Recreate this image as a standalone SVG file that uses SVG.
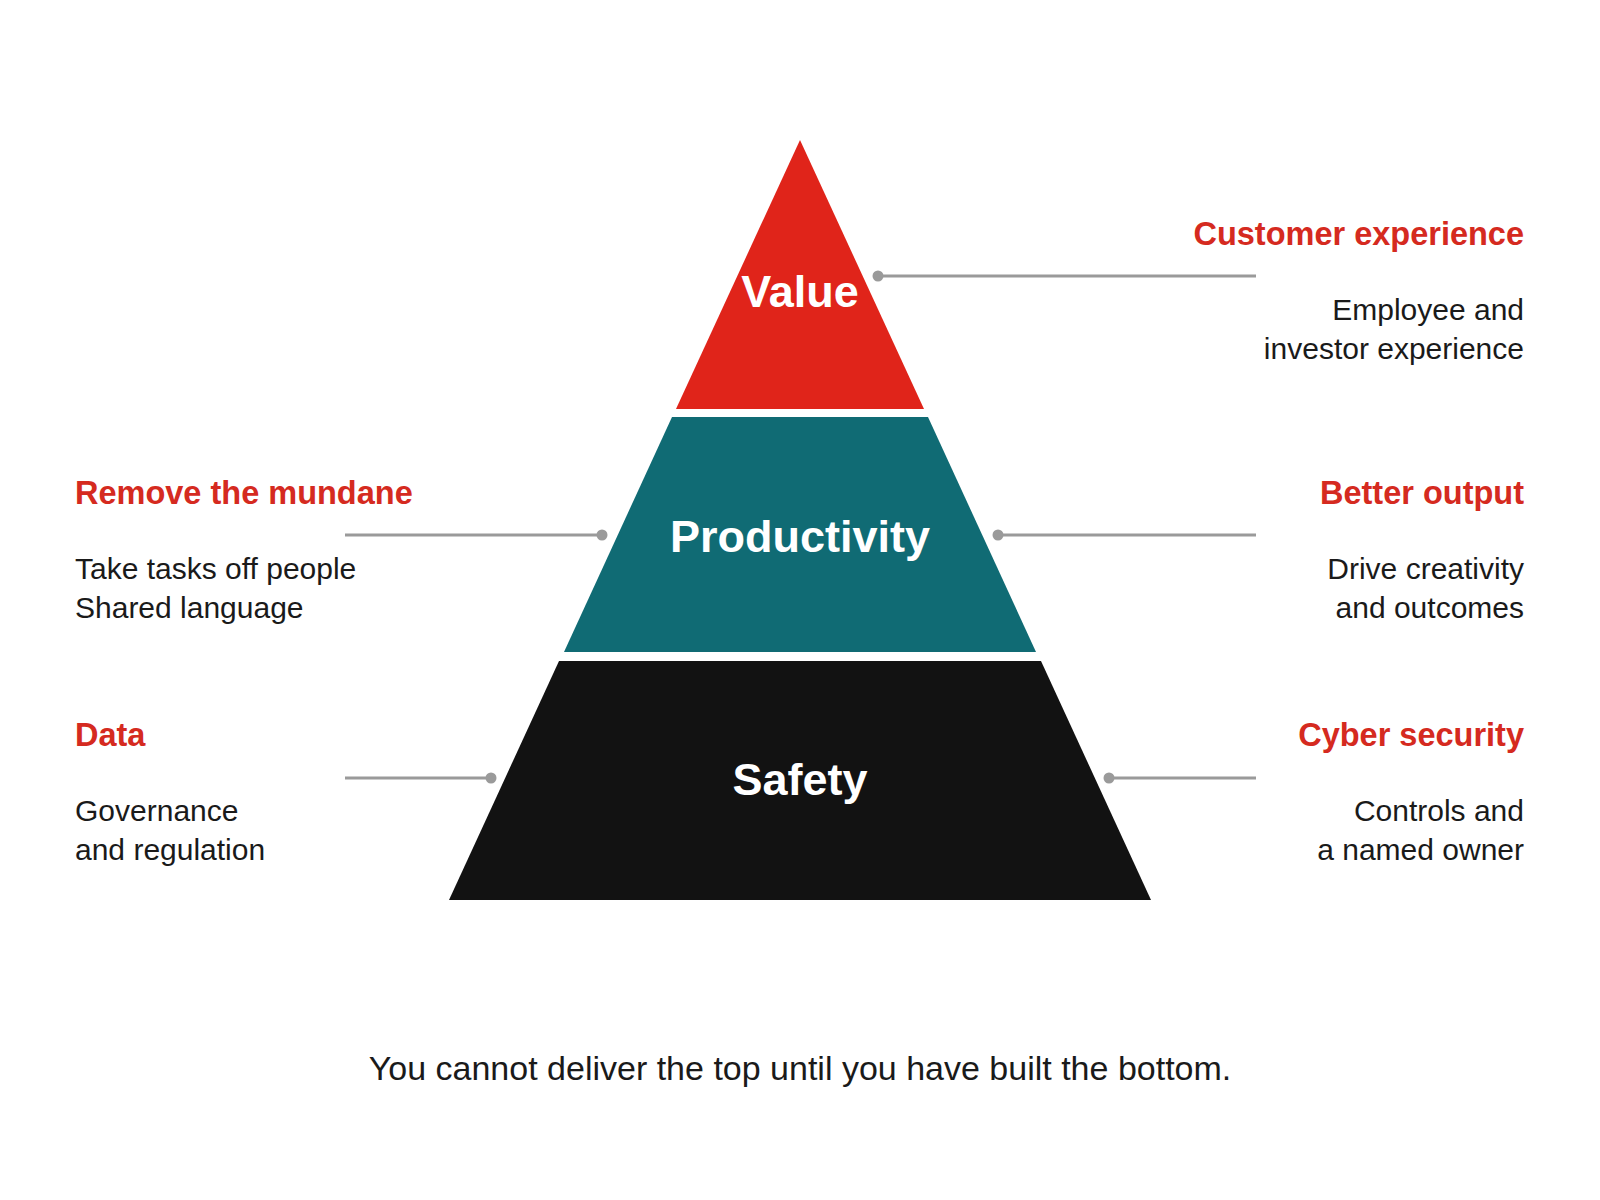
<svg xmlns="http://www.w3.org/2000/svg" width="1600" height="1200" viewBox="0 0 1600 1200">
<style>
.layer-label{font-family:"Liberation Sans",Arial,sans-serif;font-weight:bold;font-size:45px;fill:#ffffff;text-anchor:middle}
.head{font-family:"Liberation Sans",Arial,sans-serif;font-weight:bold;font-size:32.5px;fill:#d52a20}
.body{font-family:"Liberation Sans",Arial,sans-serif;font-size:30px;fill:#1a1a1a}
.r{text-anchor:end}
.conn{stroke:#9a9a9a;stroke-width:3;fill:none}
.dot{fill:#9a9a9a}
.caption{font-family:"Liberation Sans",Arial,sans-serif;font-size:34px;fill:#1a1a1a;text-anchor:middle}
</style>
<rect width="1600" height="1200" fill="#ffffff"/>
<g id="value">
<polygon points="800,140 924,409 676,409" fill="#e0241a"/>
<text class="layer-label" x="800" y="307">Value</text>
</g>
<g id="productivity">
<polygon points="672,417 928,417 1036,652 564,652" fill="#106b74"/>
<text class="layer-label" x="800" y="552">Productivity</text>
</g>
<g id="safety">
<polygon points="559,661 1041,661 1151,900 449,900" fill="#121212"/>
<text class="layer-label" x="800" y="795">Safety</text>
</g>
<g id="connectors">
<line class="conn" x1="878" y1="276" x2="1256" y2="276"/>
<circle class="dot" cx="878" cy="276" r="5.5"/>
<line class="conn" x1="345" y1="535" x2="602" y2="535"/>
<circle class="dot" cx="602" cy="535" r="5.5"/>
<line class="conn" x1="998" y1="535" x2="1256" y2="535"/>
<circle class="dot" cx="998" cy="535" r="5.5"/>
<line class="conn" x1="345" y1="778" x2="491" y2="778"/>
<circle class="dot" cx="491" cy="778" r="5.5"/>
<line class="conn" x1="1109" y1="778" x2="1256" y2="778"/>
<circle class="dot" cx="1109" cy="778" r="5.5"/>
</g>
<g id="customer-experience">
<text class="head r" x="1524" y="245">Customer experience</text>
<text class="body r" x="1524" y="320">Employee and</text>
<text class="body r" x="1524" y="359">investor experience</text>
</g>
<g id="remove-the-mundane">
<text class="head" x="75" y="504">Remove the mundane</text>
<text class="body" x="75" y="579">Take tasks off people</text>
<text class="body" x="75" y="618">Shared language</text>
</g>
<g id="better-output">
<text class="head r" x="1524" y="504">Better output</text>
<text class="body r" x="1524" y="579">Drive creativity</text>
<text class="body r" x="1524" y="618">and outcomes</text>
</g>
<g id="data">
<text class="head" x="75" y="746">Data</text>
<text class="body" x="75" y="821">Governance</text>
<text class="body" x="75" y="860">and regulation</text>
</g>
<g id="cyber-security">
<text class="head r" x="1524" y="746">Cyber security</text>
<text class="body r" x="1524" y="821">Controls and</text>
<text class="body r" x="1524" y="860">a named owner</text>
</g>
<g id="caption">
<text class="caption" x="800" y="1080">You cannot deliver the top until you have built the bottom.</text>
</g>
</svg>
